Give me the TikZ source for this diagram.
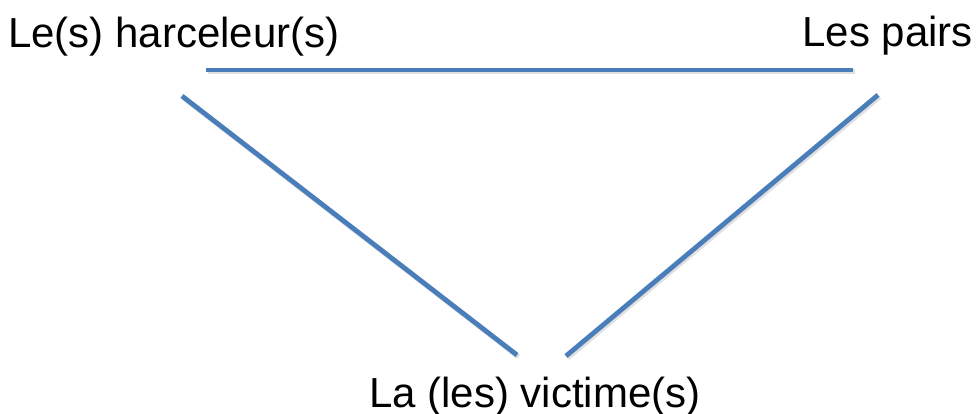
\documentclass[tikz,border=0pt]{standalone}
\usepackage{fontspec}
\setmainfont{Liberation Sans}
\definecolor{linkblue}{HTML}{4A7EBB}
\begin{document}
\begin{tikzpicture}[x=1pt,y=-1pt,
  lbl/.style={inner sep=0pt,font=\fontsize{42}{50}\selectfont},
  link/.style={draw=linkblue,line width=4.8pt,line cap=butt},
  shade/.style={draw=black!35,opacity=0.35,line width=5pt}]
\useasboundingbox (0,0) rectangle (977,414);
\node[lbl,anchor=base west] (harc) at (8,48) {Le(s) harceleur(s)};
\node[lbl,anchor=base east] (pairs) at (973,47) {Les pairs};
\node[lbl,anchor=base] (vict) at (535,407) {La (les) victime(s)};
\coordinate (h1) at (206,70);
\coordinate (h2) at (853,70);
\coordinate (l1) at (182,96);
\coordinate (l2) at (517,355);
\coordinate (r1) at (878,95);
\coordinate (r2) at (566,356);
\foreach \a/\b in {h1/h2,l1/l2,r1/r2}{
  \draw[shade] ([shift={(1.5,2)}]\a) -- ([shift={(1.5,2)}]\b);
}
\draw[link] (h1) -- (h2);
\draw[link] (l1) -- (l2);
\draw[link] (r1) -- (r2);
\end{tikzpicture}
\end{document}
